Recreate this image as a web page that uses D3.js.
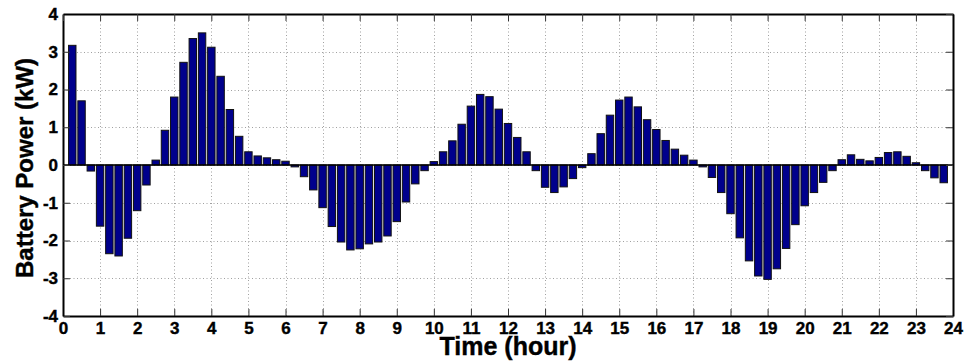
<!DOCTYPE html>
<html>
<head>
<meta charset="utf-8">
<script src="https://cdn.jsdelivr.net/npm/d3@7"></script>
<style>
  html, body { margin: 0; padding: 0; background: #fff; }
  svg { display: block; font-family: "Liberation Sans", Arial, sans-serif; }
</style>
</head>
<body>
<svg id="chart" width="967" height="362"></svg>
<script>
// ---- data ----
const times = [
  0.25, 0.5, 0.75, 1.0, 1.25, 1.5, 1.75, 2.0, 2.25, 2.5, 2.75, 3.0,
  3.25, 3.5, 3.75, 4.0, 4.25, 4.5, 4.75, 5.0, 5.25, 5.5, 5.75, 6.0,
  6.25, 6.5, 6.75, 7.0, 7.25, 7.5, 7.75, 8.0, 8.25, 8.5, 8.75, 9.0,
  9.25, 9.5, 9.75, 10.0, 10.25, 10.5, 10.75, 11.0, 11.25, 11.5, 11.75, 12.0,
  12.25, 12.5, 12.75, 13.0, 13.25, 13.5, 13.75, 14.0, 14.25, 14.5, 14.75, 15.0,
  15.25, 15.5, 15.75, 16.0, 16.25, 16.5, 16.75, 17.0, 17.25, 17.5, 17.75, 18.0,
  18.25, 18.5, 18.75, 19.0, 19.25, 19.5, 19.75, 20.0, 20.25, 20.5, 20.75, 21.0,
  21.25, 21.5, 21.75, 22.0, 22.25, 22.5, 22.75, 23.0, 23.25, 23.5, 23.75
];
const batteryPower = [
  3.17, 1.70, -0.16, -1.62, -2.35, -2.41, -1.94, -1.21, -0.53, 0.13, 0.92, 1.80,
  2.72, 3.35, 3.50, 3.12, 2.35, 1.47, 0.76, 0.35, 0.24, 0.19, 0.14, 0.10,
  -0.05, -0.31, -0.66, -1.13, -1.63, -2.04, -2.25, -2.22, -2.09, -2.04, -1.88, -1.50,
  -0.98, -0.50, -0.15, 0.09, 0.35, 0.64, 1.08, 1.56, 1.87, 1.81, 1.48, 1.10,
  0.73, 0.35, -0.15, -0.59, -0.73, -0.58, -0.36, -0.07, 0.30, 0.83, 1.32, 1.72,
  1.80, 1.54, 1.20, 0.94, 0.65, 0.42, 0.26, 0.13, -0.05, -0.33, -0.73, -1.29,
  -1.93, -2.54, -2.94, -3.03, -2.75, -2.21, -1.58, -1.08, -0.73, -0.46, -0.15, 0.14,
  0.27, 0.15, 0.11, 0.20, 0.33, 0.35, 0.23, 0.06, -0.15, -0.34, -0.47
];
const xTicks = [0,1,2,3,4,5,6,7,8,9,10,11,12,13,14,15,16,17,18,19,20,21,22,23,24];
const yTicks = [-4,-3,-2,-1,0,1,2,3,4];
const xLabel = "Time (hour)";
const yLabel = "Battery Power (kW)";

// ---- layout ----
const W = 967, H = 362;
const m = { left: 63, right: 14, top: 14, bottom: 46 };
const svg = d3.select("#chart");

const x = d3.scaleLinear().domain([0, 24]).range([m.left, W - m.right]);
const y = d3.scaleLinear().domain([-4, 4]).range([H - m.bottom, m.top]);

// grid
const grid = svg.append("g").attr("stroke", "#a0a0a0").attr("stroke-width", 1)
  .attr("stroke-dasharray", "1,2.5");
grid.selectAll(".gx").data(xTicks.slice(1, -1)).join("line")
  .attr("x1", d => Math.round(x(d)) + 0.5).attr("x2", d => Math.round(x(d)) + 0.5)
  .attr("y1", y(4)).attr("y2", y(-4));
grid.selectAll(".gy").data(yTicks.slice(1, -1)).join("line")
  .attr("y1", d => Math.round(y(d)) + 0.5).attr("y2", d => Math.round(y(d)) + 0.5)
  .attr("x1", x(0)).attr("x2", x(24));

// bars
const step = x(0.25) - x(0);
const bw = step * 0.8;
svg.append("g").selectAll("rect").data(times).join("rect")
  .attr("x", (t) => x(t) - bw / 2)
  .attr("width", bw)
  .attr("y", (t, i) => y(Math.max(0, batteryPower[i])))
  .attr("height", (t, i) => Math.abs(y(batteryPower[i]) - y(0)))
  .attr("fill", "#00008c")
  .attr("stroke", "#111")
  .attr("stroke-width", 1);

// baseline
svg.append("line")
  .attr("x1", x(0)).attr("x2", x(24))
  .attr("y1", y(0)).attr("y2", y(0))
  .attr("stroke", "#000").attr("stroke-width", 1.5);

// axes
const fmt = d => String(d);
const axB = svg.append("g").attr("transform", `translate(0,${y(-4)})`)
  .call(d3.axisBottom(x).tickValues(xTicks).tickFormat(fmt).tickSizeInner(-7).tickSizeOuter(0).tickPadding(6));
const axL = svg.append("g").attr("transform", `translate(${x(0)},0)`)
  .call(d3.axisLeft(y).tickValues(yTicks).tickFormat(fmt).tickSizeInner(-7).tickSizeOuter(0).tickPadding(5));
const axT = svg.append("g").attr("transform", `translate(0,${y(4)})`)
  .call(d3.axisTop(x).tickValues(xTicks).tickFormat("").tickSizeInner(-7).tickSizeOuter(0));
const axR = svg.append("g").attr("transform", `translate(${x(24)},0)`)
  .call(d3.axisRight(y).tickValues(yTicks).tickFormat("").tickSizeInner(-7).tickSizeOuter(0));

[axB, axL, axT, axR].forEach(a => {
  a.select(".domain").attr("stroke", "#000").attr("stroke-width", 2);
  a.selectAll(".tick line").attr("stroke", "#333").attr("stroke-width", 1);
  a.selectAll("text").attr("fill", "#000").attr("font-size", 17).attr("font-weight", "bold")
    .attr("stroke", "#000").attr("stroke-width", 0.4)
    .attr("font-family", "'Liberation Sans', Arial, sans-serif");
});

// titles
svg.append("text")
  .attr("x", (x(0) + x(24)) / 2).attr("y", 355)
  .attr("text-anchor", "middle")
  .attr("font-size", 25).attr("font-weight", "bold").attr("fill", "#000")
  .attr("stroke", "#000").attr("stroke-width", 0.4)
  .text(xLabel);
svg.append("text")
  .attr("transform", `translate(33,168) rotate(-90)`)
  .attr("text-anchor", "middle")
  .attr("font-size", 24).attr("font-weight", "bold").attr("fill", "#000")
  .attr("stroke", "#000").attr("stroke-width", 0.4)
  .text(yLabel);
</script>
</body>
</html>
